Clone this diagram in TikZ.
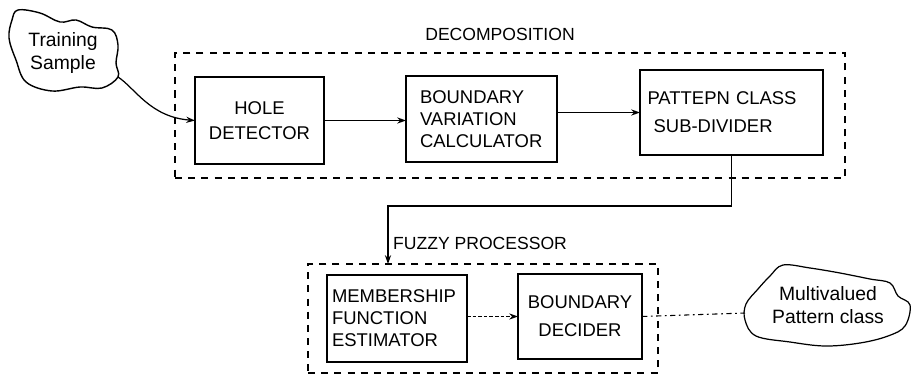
\documentclass[tikz,border=0pt]{standalone}
\usepackage{fontspec}
\setmainfont{Liberation Sans}
\usetikzlibrary{arrows.meta}
\begin{document}
\begin{tikzpicture}[x=0.02cm,y=-0.02cm,
  every node/.style={inner sep=0pt,outer sep=0pt},
  blk/.style={draw,line width=0.8pt,font=\fontsize{10.5}{13}\selectfont},
  grp/.style={draw,line width=0.8pt,dash pattern=on 4pt off 3.5pt},
  lbl/.style={font=\fontsize{10}{12}\selectfont},
  cloudtxt/.style={font=\fontsize{11}{13.5}\selectfont,align=center},
  arr/.style={line width=0.7pt,-{Stealth[length=5pt,width=3.5pt]}},
  cloudline/.style={line width=0.8pt}
]
\useasboundingbox (0,0) rectangle (913,379);

% groups
\node[grp,minimum width=13.4cm,minimum height=2.5cm] (dec) at (510,115.5) {};
\node[grp,minimum width=7.0cm,minimum height=2.18cm] (fuz) at (483,318.5) {};
\node[lbl] (declbl) at (500,34) {DECOMPOSITION};
\node[lbl] (fuzlbl) at (480,243) {FUZZY PROCESSOR};

% blocks
\node[blk,minimum width=2.58cm,minimum height=1.74cm,align=center,
  font=\fontsize{10.5}{14}\selectfont] (hole) at (259.5,120.5) {HOLE\\DETECTOR};
\node[blk,minimum width=3.02cm,minimum height=1.72cm,align=left,text width=2.46cm,inner xsep=0.28cm,
  font=\fontsize{10.5}{12.5}\selectfont] (bvc) at (481.5,119) {BOUNDARY\\VARIATION\\CALCULATOR};
\node[blk,minimum width=3.66cm,minimum height=1.7cm,align=left,text width=3.36cm,inner xsep=0.15cm,
  font=\fontsize{10.5}{16}\selectfont] (pcs) at (731.5,112.5) {PATTEPN CLASS\\\ SUB-DIVIDER};
\node[blk,minimum width=2.8cm,minimum height=1.74cm,align=left,text width=2.6cm,inner xsep=0.1cm,
  font=\fontsize{10.5}{12.5}\selectfont] (mfe) at (397,318.5) {MEMBERSHIP\\FUNCTION\\ESTIMATOR};
\node[blk,minimum width=2.48cm,minimum height=1.7cm,align=center,
  font=\fontsize{10.5}{16}\selectfont] (bd) at (580,316.5) {BOUNDARY\\DECIDER};

% clouds
\draw[cloudline] plot[smooth cycle,tension=0.6] coordinates {
  (18,10) (40,13) (60,22) (76,20) (92,27) (112,30) (118,45) (116,63) (118,77)
  (102,88) (80,87) (52,91) (26,82) (16,60) (9,38) (12,20)};
\coordinate (tsout) at (118,77);
\node[cloudtxt] (tstext) at (63,53) {Training\\Sample};

\draw[line width=0.7pt] plot[smooth cycle,tension=0.6] coordinates {
  (783,265) (810,268) (840,273) (870,279) (890,283) (898,296) (910,305)
  (905,326) (888,336) (860,343) (825,346) (790,342) (756,336) (745,320)
  (746,304) (758,289) (770,276)};
\coordinate (mvin) at (745,313);
\node[cloudtxt] (mvtext) at (828,305) {Multivalued\\Pattern class};

% connectors
\draw[arr] (tsout) .. controls (135,88) and (150,117) .. (hole.west);
\draw[arr] (hole.east) -- (hole.east -| bvc.west);
\draw[arr] (bvc.east |- pcs.west) -- (pcs.west);
\coordinate (turn) at (388,206);
\draw[arr] (pcs.south) |- (turn) -- (turn |- fuz.north);
\draw[arr,dash pattern=on 2pt off 1.2pt,line width=0.6pt] (mfe.east |- bd.west) -- (bd.west);
\draw[line width=0.6pt,dash pattern=on 3pt off 2pt on 1pt off 2pt] (bd.east) -- (mvin);
\end{tikzpicture}
\end{document}
